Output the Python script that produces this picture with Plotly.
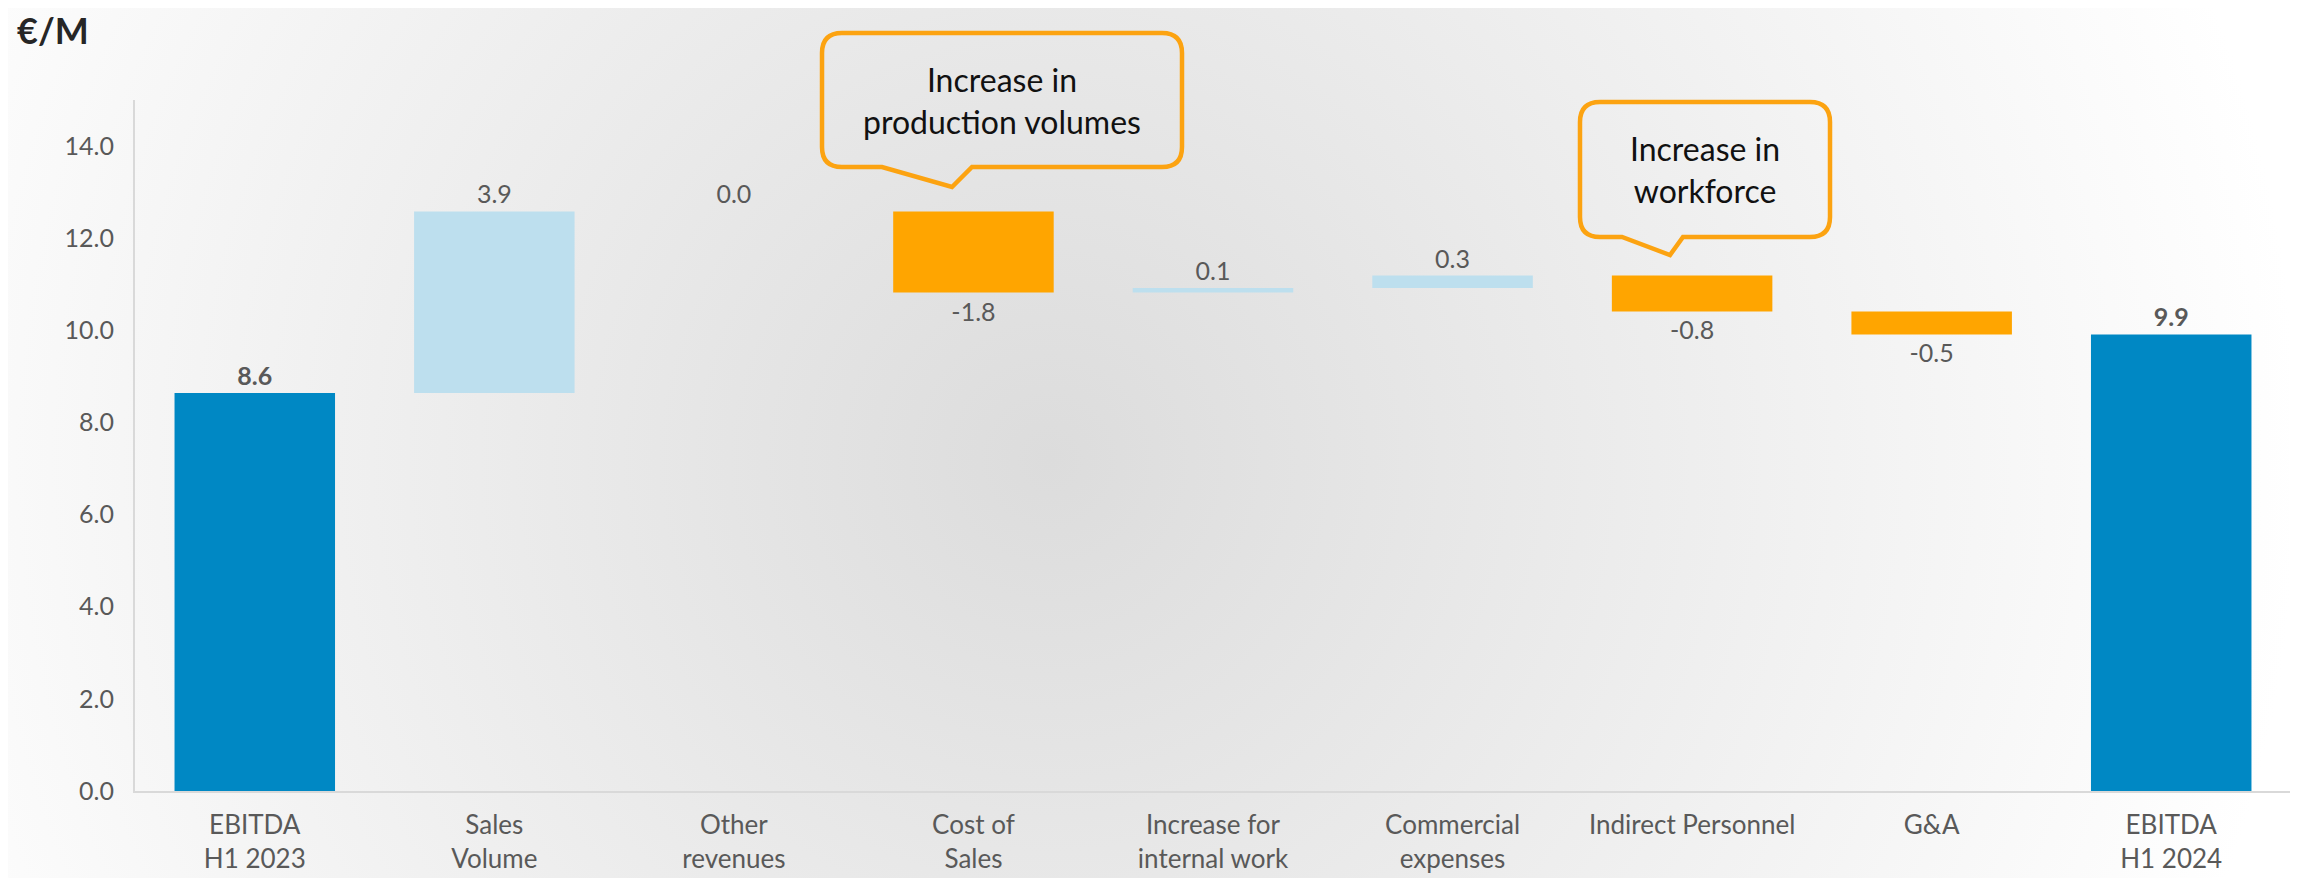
import base64
import plotly.graph_objects as go

# data (€/M)
categories = ["EBITDA<br>H1 2023", "Sales<br>Volume", "Other<br>revenues", "Cost of<br>Sales",
              "Increase for<br>internal work", "Commercial<br>expenses", "Indirect Personnel",
              "G&A", "EBITDA<br>H1 2024"]
measures = ["absolute", "relative", "relative", "relative", "relative",
            "relative", "relative", "relative", "total"]
values = [8.64, 3.94, 0.0, -1.76, 0.10, 0.27, -0.78, -0.50, 0]
labels = ["<b>8.6</b>", "3.9", "0.0", "-1.8", "0.1", "0.3", "-0.8", "-0.5", "<b>9.9</b>"]
callout_texts = ["Increase in<br>production volumes", "Increase in<br>workforce"]

# the page body adds an 8px margin, so the figure is laid out 8px smaller
OFF = 8
W, H = 2298 - OFF, 878 - OFF
L, R, T, B = 135 - OFF, 7, 100 - OFF, 87
PW, PH = W - L - R, H - T - B

FONT = "Lato"
GREY = "#595959"


def px(x):
    # window pixel -> paper
    return (x - OFF - L) / PW


def py(y):
    return 1 - (y - OFF - T) / PH


def callout_path(x0, y0, x1, y1, rad, ta, tip, tb):
    # rounded box with a tail on the bottom edge
    pts = [
        ("M", [(x0 + rad, y0)]),
        ("L", [(x1 - rad, y0)]),
        ("Q", [(x1, y0), (x1, y0 + rad)]),
        ("L", [(x1, y1 - rad)]),
        ("Q", [(x1, y1), (x1 - rad, y1)]),
        ("L", [(tb, y1)]),
        ("L", [tip]),
        ("L", [(ta, y1)]),
        ("L", [(x0 + rad, y1)]),
        ("Q", [(x0, y1), (x0, y1 - rad)]),
        ("L", [(x0, y0 + rad)]),
        ("Q", [(x0, y0), (x0 + rad, y0)]),
    ]
    s = ""
    for cmd, pp in pts:
        s += cmd + " ".join(f"{px(a):.5f},{py(b):.5f}" for a, b in pp) + " "
    return s + "Z"


# soft radial grey background like the slide
svg = f"""<svg xmlns='http://www.w3.org/2000/svg' width='{W}' height='{H}'>
<defs><radialGradient id='g' gradientUnits='userSpaceOnUse' cx='{1050 - OFF}' cy='{460 - OFF}' r='1250'>
<stop offset='0' stop-color='#dcdcdc'/><stop offset='1' stop-color='#ffffff'/></radialGradient></defs>
<rect width='{W}' height='{H}' fill='url(#g)'/></svg>"""
bg_src = "data:image/svg+xml;base64," + base64.b64encode(svg.encode()).decode()

fig = go.Figure()
fig.add_trace(go.Waterfall(
    x=categories,
    y=values,
    measure=measures,
    text=labels,
    textinfo="text",
    textposition="outside",
    textfont=dict(family=FONT, size=25, color=GREY),
    cliponaxis=False,
    increasing=dict(marker=dict(color="#BDDFEE")),
    decreasing=dict(marker=dict(color="#FFA500")),
    totals=dict(marker=dict(color="#0088C4")),
    connector=dict(visible=False),
    hoverinfo="skip",
))

fig.update_layout(
    width=W, height=H,
    margin=dict(l=L, r=R, t=T, b=B),
    paper_bgcolor="white",
    plot_bgcolor="rgba(0,0,0,0)",
    showlegend=False,
    waterfallgap=0.33,
    font=dict(family=FONT, size=25, color=GREY),
    xaxis=dict(
        showline=True, linecolor="#d9d9d9", linewidth=2, automargin=False,
        showgrid=False, ticks="", ticklabelstandoff=10,
        tickfont=dict(size=26, color=GREY),
    ),
    yaxis=dict(
        range=[0, 15], tickvals=[0, 2, 4, 6, 8, 10, 12, 14], tickformat=".1f",
        showline=True, linecolor="#d9d9d9", linewidth=2, automargin=False,
        showgrid=False, zeroline=False, ticks="", ticklabelstandoff=14,
        tickfont=dict(size=25, color=GREY),
    ),
    images=[dict(source=bg_src, xref="paper", yref="paper",
                 x=-L / PW, y=1 + T / PH, sizex=W / PW, sizey=H / PH,
                 xanchor="left", yanchor="top", sizing="stretch", layer="below")],
)

# title in the corner
fig.add_annotation(text="<b>€/M</b>", xref="paper", yref="paper", x=px(15), y=py(30),
                   xanchor="left", yanchor="middle", showarrow=False,
                   font=dict(family=FONT, size=36, color="#262626"))

# callouts (window pixel positions)
boxes = [
    dict(box=(822, 33, 1182, 167), tail=(882, (952, 187), 972)),
    dict(box=(1580, 102, 1830, 237), tail=(1622, (1670, 255), 1683)),
]
for b, txt in zip(boxes, callout_texts):
    x0, y0, x1, y1 = b["box"]
    ta, tip, tb = b["tail"]
    fig.add_shape(type="path", xref="paper", yref="paper",
                  path=callout_path(x0, y0, x1, y1, 20, ta, tip, tb),
                  line=dict(color="#FCA311", width=4.5), fillcolor="rgba(0,0,0,0)")
    fig.add_annotation(text=txt, xref="paper", yref="paper",
                       x=px((x0 + x1) / 2), y=py((y0 + y1) / 2),
                       xanchor="center", yanchor="middle",
                       showarrow=False, align="center",
                       font=dict(family=FONT, size=32, color="#111111"))

fig.write_html("out.html")
